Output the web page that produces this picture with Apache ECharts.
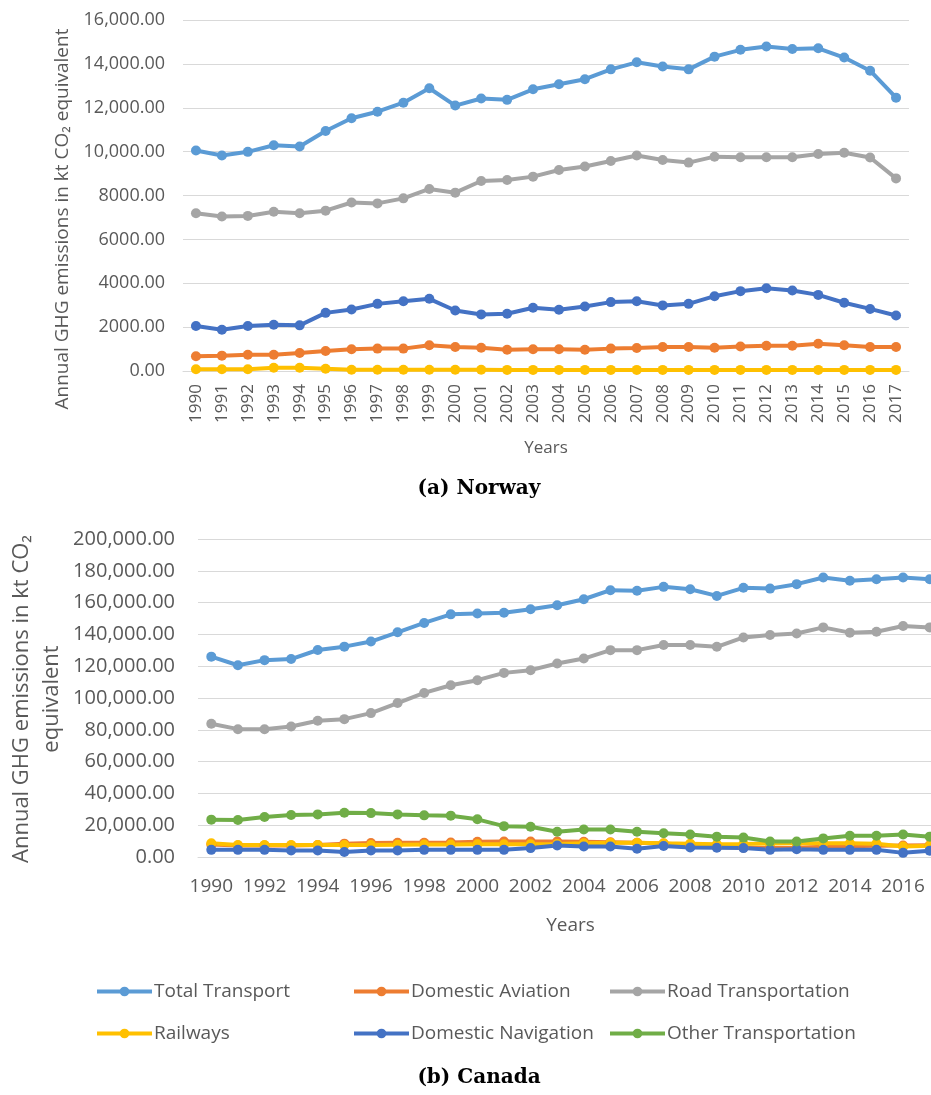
<!DOCTYPE html>
<html>
<head>
<meta charset="utf-8">
<title>Transport GHG emissions - Norway and Canada</title>
<script src="https://cdn.jsdelivr.net/npm/echarts@6/dist/echarts.min.js"></script>
<style>
    html, body { margin: 0; padding: 0; background: #fff; }
    #chart { width: 931px; height: 1095px; }
</style>
</head>
<body>
<div id="chart"></div>
<script>
// years on both x axes
const years = ['1990', '1991', '1992', '1993', '1994', '1995', '1996', '1997', '1998', '1999',
    '2000', '2001', '2002', '2003', '2004', '2005', '2006', '2007', '2008', '2009',
    '2010', '2011', '2012', '2013', '2014', '2015', '2016', '2017'];

// (a) Norway, kt CO2 equivalent
const norwayTotal = [10050, 9820, 9990, 10290, 10230, 10940, 11520, 11820, 12230, 12890,
    12100, 12420, 12360, 12840, 13070, 13300, 13750, 14070, 13880, 13750,
    14330, 14640, 14790, 14680, 14710, 14290, 13690, 12460];
const norwayAviation = [670, 700, 740, 740, 820, 910, 990, 1020, 1020, 1170,
    1090, 1060, 970, 990, 990, 970, 1020, 1050, 1090, 1090,
    1060, 1120, 1150, 1150, 1240, 1170, 1090, 1090];
const norwayRoad = [7190, 7040, 7070, 7260, 7190, 7310, 7680, 7640, 7870, 8300,
    8130, 8660, 8710, 8860, 9160, 9320, 9570, 9820, 9620, 9500,
    9770, 9740, 9740, 9740, 9890, 9950, 9730, 8780];
const norwayRailways = [80, 80, 80, 150, 150, 100, 60, 60, 60, 60,
    60, 60, 50, 50, 50, 50, 50, 50, 50, 50,
    50, 50, 50, 50, 50, 50, 50, 50];
const norwayNavigation = [2050, 1880, 2050, 2110, 2080, 2650, 2800, 3060, 3180, 3290,
    2760, 2580, 2610, 2880, 2790, 2940, 3140, 3180, 2990, 3060,
    3410, 3640, 3770, 3670, 3470, 3110, 2830, 2530];

// (b) Canada, kt CO2 equivalent
const canadaTotal = [126000, 120600, 123800, 124500, 130200, 132300, 135500, 141300, 147200, 152600,
    153200, 153600, 155800, 158300, 162100, 167800, 167400, 169900, 168400, 164200,
    169300, 168800, 171600, 175800, 173700, 174700, 175800, 174700];
const canadaAviation = [7800, 7200, 7300, 7300, 7500, 8400, 8800, 8900, 9000, 9100,
    9600, 9700, 9700, 9800, 9600, 9300, 8900, 8500, 7500, 6300,
    5800, 5600, 5800, 6400, 6800, 7000, 7200, 7400];
const canadaRoad = [83800, 80400, 80400, 82100, 85700, 86700, 90500, 96800, 103200, 108000,
    111200, 115800, 117500, 121700, 124800, 130100, 130100, 133300, 133300, 132200,
    138100, 139600, 140600, 144400, 141100, 141700, 145300, 144400];
const canadaRailways = [8700, 7600, 7600, 7500, 7600, 7500, 7600, 7700, 7800, 7900,
    8000, 8000, 8000, 8100, 8700, 8900, 9000, 8600, 8400, 8000,
    8200, 8500, 8600, 8700, 8700, 8400, 6600, 7000];
const canadaNavigation = [4500, 4500, 4500, 4100, 4100, 3100, 4100, 4100, 4500, 4500,
    4500, 4500, 5600, 7200, 6600, 6600, 5200, 6900, 6000, 5800,
    5600, 4500, 4900, 4500, 4500, 4500, 2600, 4000];
const canadaOther = [23500, 23300, 25200, 26400, 26800, 27800, 27600, 26800, 26200, 26000,
    23700, 19400, 19000, 15900, 17300, 17300, 15900, 14900, 14200, 12800,
    12200, 9700, 9700, 11700, 13400, 13400, 14200, 12800];

// tick labels as printed on the y axes
const norwayTickLabels = ['0.00', '2000.00', '4000.00', '6000.00', '8000.00',
    '10,000.00', '12,000.00', '14,000.00', '16,000.00'];
const canadaTickLabels = ['0.00', '20,000.00', '40,000.00', '60,000.00', '80,000.00', '100,000.00',
    '120,000.00', '140,000.00', '160,000.00', '180,000.00', '200,000.00'];

const colors = {
    'Total Transport': '#5B9BD5',
    'Domestic Aviation': '#ED7D31',
    'Road Transportation': '#A5A5A5',
    'Railways': '#FFC000',
    'Domestic Navigation': '#4472C4',
    'Other Transportation': '#70AD47'
};

const FONT = '"Open Sans", "DejaVu Sans", sans-serif';
const TEXT = '#595959';
const GRID_LINE = '#D9D9D9';

function lineSeries (name, data, gridIndex) {
    return {
        name: name,
        type: 'line',
        xAxisIndex: gridIndex,
        yAxisIndex: gridIndex,
        data: data,
        symbol: 'circle',
        symbolSize: 10,
        showAllSymbol: true,
        animation: false,
        itemStyle: { color: colors[name] },
        lineStyle: { color: colors[name], width: 4 }
    };
}

// one legend per column so the columns line up like the original
function legendColumn (names, left) {
    return {
        data: names,
        orient: 'vertical',
        left: left,
        top: 982,
        padding: 0,
        itemGap: 23,
        itemWidth: 55,
        itemHeight: 12,
        selectedMode: false,
        lineStyle: { width: 4 },
        textStyle: { color: TEXT, fontSize: 19, fontFamily: FONT, padding: [0, 0, 0, -3] }
    };
}

let myChart = echarts.init(document.getElementById('chart'));
let options = {
    backgroundColor: '#fff',
    animation: false,
    textStyle: { fontFamily: FONT },
    grid: [
        { left: 183, top: 20, width: 726, height: 351, outerBoundsMode: 'none' },
        { left: 198, top: 539, width: 745, height: 318, outerBoundsMode: 'none' }
    ],
    xAxis: [{
        gridIndex: 0,
        type: 'category',
        data: years,
        boundaryGap: true,
        name: 'Years',
        nameLocation: 'middle',
        nameGap: 69,
        nameTextStyle: { color: TEXT, fontSize: 17, fontFamily: FONT },
        axisLine: { lineStyle: { color: GRID_LINE } },
        axisTick: { show: false },
        axisLabel: { interval: 0, rotate: 90, margin: 13, color: TEXT, fontSize: 17, fontFamily: FONT }
    }, {
        gridIndex: 1,
        type: 'category',
        data: years,
        boundaryGap: true,
        name: 'Years',
        nameLocation: 'middle',
        nameGap: 59,
        nameTextStyle: { color: TEXT, fontSize: 19, fontFamily: FONT },
        axisLine: { lineStyle: { color: GRID_LINE } },
        axisTick: { show: false },
        axisLabel: { interval: 1, margin: 20, color: TEXT, fontSize: 19, fontFamily: FONT }
    }],
    yAxis: [{
        gridIndex: 0,
        type: 'value',
        min: 0,
        max: 16000,
        interval: 2000,
        axisLine: { show: false },
        axisTick: { show: false },
        splitLine: { lineStyle: { color: GRID_LINE, width: 1 } },
        axisLabel: {
            margin: 18,
            color: TEXT,
            fontSize: 18,
            fontFamily: FONT,
            formatter: v => norwayTickLabels[Math.round(v / 2000)]
        }
    }, {
        gridIndex: 1,
        type: 'value',
        min: 0,
        max: 200000,
        interval: 20000,
        axisLine: { show: false },
        axisTick: { show: false },
        splitLine: { lineStyle: { color: GRID_LINE, width: 1 } },
        axisLabel: {
            margin: 23,
            color: TEXT,
            fontSize: 20,
            fontFamily: FONT,
            formatter: v => canadaTickLabels[Math.round(v / 20000)]
        }
    }],
    legend: [
        legendColumn(['Total Transport', 'Railways'], 95),
        legendColumn(['Domestic Aviation', 'Domestic Navigation'], 352),
        legendColumn(['Road Transportation', 'Other Transportation'], 608)
    ],
    graphic: [{
        type: 'text',
        x: 63,
        y: 219,
        rotation: Math.PI / 2,
        style: {
            text: 'Annual GHG emissions in kt CO₂ equivalent',
            fill: TEXT,
            font: '19px ' + FONT,
            align: 'center',
            verticalAlign: 'middle'
        }
    }, {
        type: 'text',
        x: 37,
        y: 699,
        rotation: Math.PI / 2,
        style: {
            text: 'Annual GHG emissions in kt CO₂\nequivalent',
            fill: TEXT,
            font: '22px ' + FONT,
            lineHeight: 30,
            align: 'center',
            verticalAlign: 'middle'
        }
    }, {
        type: 'text',
        x: 479,
        y: 489,
        style: {
            text: '(a) Norway',
            fill: '#000',
            font: 'bold 20px "DejaVu Serif", serif',
            align: 'center',
            verticalAlign: 'middle'
        }
    }, {
        type: 'text',
        x: 479,
        y: 1078,
        style: {
            text: '(b) Canada',
            fill: '#000',
            font: 'bold 20px "DejaVu Serif", serif',
            align: 'center',
            verticalAlign: 'middle'
        }
    }],
    series: [
        lineSeries('Total Transport', norwayTotal, 0),
        lineSeries('Domestic Aviation', norwayAviation, 0),
        lineSeries('Road Transportation', norwayRoad, 0),
        lineSeries('Railways', norwayRailways, 0),
        lineSeries('Domestic Navigation', norwayNavigation, 0),
        lineSeries('Total Transport', canadaTotal, 1),
        lineSeries('Domestic Aviation', canadaAviation, 1),
        lineSeries('Road Transportation', canadaRoad, 1),
        lineSeries('Railways', canadaRailways, 1),
        lineSeries('Domestic Navigation', canadaNavigation, 1),
        lineSeries('Other Transportation', canadaOther, 1)
    ]
};
myChart.setOption(options);
</script>
</body>
</html>
